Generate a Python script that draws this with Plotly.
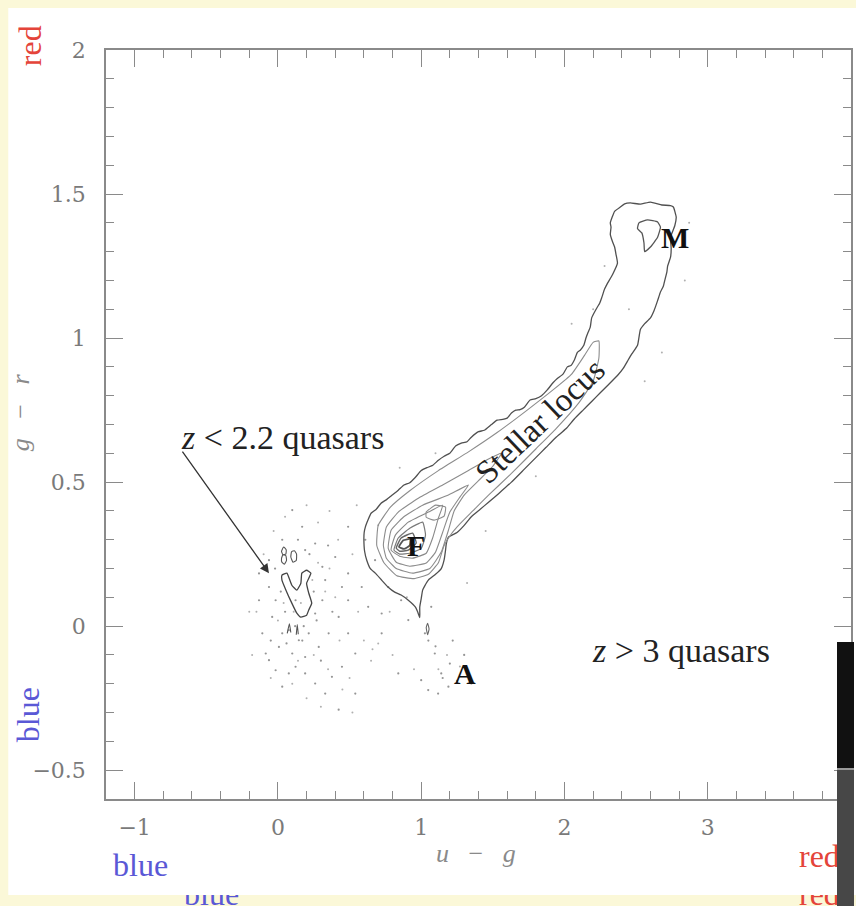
import plotly.graph_objects as go

# ---------------------------------------------------------------
# SDSS colour-colour diagram: g - r versus u - g
# ---------------------------------------------------------------

# Outermost density contour of the stellar locus (tail -> M end -> back)
OUTER_UG = [0.99, 0.975, 0.96, 0.91, 0.86, 0.815, 0.77, 0.72, 0.68, 0.645, 0.62, 0.605,
            0.60, 0.602, 0.61, 0.63, 0.65, 0.685, 0.72, 0.76, 0.79, 0.84, 0.88, 0.92,
            0.96, 1.00, 1.04, 1.08, 1.12, 1.16, 1.20, 1.24, 1.28, 1.32, 1.35, 1.40,
            1.44, 1.49, 1.53, 1.57, 1.60, 1.63, 1.66, 1.69, 1.72, 1.76, 1.80, 1.84,
            1.88, 1.92, 1.95, 1.99, 2.02, 2.045, 2.07, 2.09, 2.11, 2.135, 2.15, 2.165,
            2.18, 2.19, 2.23, 2.245, 2.26, 2.28, 2.30, 2.335, 2.37, 2.36, 2.35, 2.335,
            2.32, 2.325, 2.32, 2.35, 2.39, 2.42, 2.46, 2.53, 2.60, 2.68, 2.74, 2.76,
            2.78, 2.77, 2.74, 2.745, 2.74, 2.72, 2.715, 2.70, 2.69, 2.67, 2.65, 2.625,
            2.60, 2.56, 2.53, 2.51, 2.47, 2.44, 2.41, 2.37, 2.31, 2.25, 2.19, 2.13,
            2.07, 2.01, 1.94, 1.87, 1.80, 1.72, 1.63, 1.54, 1.47, 1.41, 1.35, 1.30,
            1.25, 1.19, 1.175, 1.17, 1.16, 1.14, 1.10, 1.05, 1.025, 1.01, 1.00, 0.99,
            0.99]
OUTER_GR = [0.03, 0.05, 0.066, 0.09, 0.108, 0.118, 0.135, 0.162, 0.184, 0.20, 0.229, 0.26,
            0.30, 0.325, 0.344, 0.37, 0.392, 0.405, 0.427, 0.44, 0.452, 0.472, 0.49, 0.498,
            0.517, 0.54, 0.55, 0.558, 0.576, 0.59, 0.60, 0.625, 0.635, 0.64, 0.656, 0.675,
            0.68, 0.70, 0.715, 0.718, 0.722, 0.74, 0.75, 0.752, 0.76, 0.785, 0.79, 0.80,
            0.82, 0.845, 0.86, 0.875, 0.90, 0.905, 0.925, 0.95, 0.958, 0.975, 1.00, 1.02,
            1.038, 1.07, 1.108, 1.12, 1.14, 1.17, 1.19, 1.22, 1.26, 1.29, 1.316, 1.335,
            1.36, 1.385, 1.40, 1.44, 1.455, 1.466, 1.469, 1.465, 1.472, 1.462, 1.46, 1.455,
            1.42, 1.39, 1.35, 1.31, 1.28, 1.25, 1.23, 1.20, 1.18, 1.16, 1.13, 1.095,
            1.07, 1.05, 1.03, 0.975, 0.945, 0.92, 0.895, 0.87, 0.84, 0.81, 0.78, 0.75,
            0.72, 0.685, 0.655, 0.62, 0.585, 0.545, 0.50, 0.46, 0.43, 0.405, 0.38, 0.35,
            0.325, 0.309, 0.285, 0.264, 0.23, 0.20, 0.18, 0.16, 0.14, 0.125, 0.095, 0.066,
            0.03]

# M-dwarf density peak
M_PEAK_UG = [2.51, 2.52, 2.58, 2.65, 2.67, 2.65, 2.60, 2.56, 2.555, 2.54, 2.51]
M_PEAK_GR = [1.38, 1.40, 1.41, 1.403, 1.385, 1.35, 1.316, 1.30, 1.33, 1.365, 1.38]

# Nested contours around the F-star peak (outer to inner)
LEVEL2_UG = [0.69, 0.70, 0.785, 0.92, 1.12, 1.33, 1.53, 1.74, 1.92, 2.05, 2.14, 2.20,
             2.24, 2.24, 2.20, 2.10, 1.94, 1.80, 1.63, 1.47, 1.36, 1.27, 1.21, 1.16,
             1.12, 1.05, 0.95, 0.83, 0.74, 0.69]
LEVEL2_GR = [0.28, 0.35, 0.413, 0.47, 0.54, 0.605, 0.672, 0.75, 0.82, 0.875, 0.94, 0.985,
             0.99, 0.93, 0.85, 0.775, 0.685, 0.615, 0.53, 0.455, 0.40, 0.355, 0.32, 0.28,
             0.22, 0.18, 0.165, 0.175, 0.22, 0.28]

LEVEL3_UG = [0.736, 0.757, 0.84, 0.98, 1.15, 1.33, 1.47, 1.56, 1.50, 1.40, 1.30, 1.23,
             1.19, 1.14, 1.06, 0.94, 0.826, 0.757, 0.736]
LEVEL3_GR = [0.281, 0.344, 0.396, 0.444, 0.49, 0.54, 0.58, 0.60, 0.555, 0.505, 0.455, 0.40,
             0.333, 0.257, 0.20, 0.184, 0.20, 0.236, 0.281]

LEVEL4_UG = [0.77, 0.79, 0.875, 1.01, 1.19, 1.33, 1.27, 1.20, 1.15, 1.10, 1.035, 0.92, 0.826, 0.77]
LEVEL4_GR = [0.27, 0.333, 0.378, 0.42, 0.455, 0.49, 0.448, 0.396, 0.326, 0.257, 0.219, 0.208, 0.222, 0.27]

LEVEL5_UG = [0.79, 0.82, 0.91, 1.05, 1.15, 1.12, 1.08, 1.035, 0.94, 0.85, 0.79]
LEVEL5_GR = [0.264, 0.316, 0.361, 0.396, 0.42, 0.375, 0.306, 0.253, 0.236, 0.243, 0.264]

LEVEL6_UG = [0.81, 0.84, 0.92, 1.01, 1.03, 1.00, 0.92, 0.85, 0.81]
LEVEL6_GR = [0.264, 0.306, 0.34, 0.361, 0.316, 0.27, 0.253, 0.25, 0.264]

LEVEL7_UG = [0.826, 0.86, 0.94, 0.965, 0.91, 0.85, 0.826]
LEVEL7_GR = [0.271, 0.306, 0.323, 0.288, 0.264, 0.26, 0.271]

LEVEL8_UG = [0.845, 0.875, 0.925, 0.92, 0.88, 0.845]
LEVEL8_GR = [0.275, 0.298, 0.303, 0.28, 0.268, 0.275]

# Secondary density peak above F
ISLAND_UG = [1.035, 1.10, 1.17, 1.16, 1.09, 1.035, 1.035]
ISLAND_GR = [0.396, 0.42, 0.413, 0.382, 0.368, 0.378, 0.396]

# Low-redshift quasar contours
QSO_MAIN_UG = [0.028, 0.0625, 0.097, 0.132, 0.16, 0.167, 0.20, 0.23, 0.20, 0.215, 0.236,
               0.215, 0.20, 0.16, 0.132, 0.097, 0.056, 0.028, 0.028]
QSO_MAIN_GR = [0.177, 0.184, 0.142, 0.125, 0.149, 0.184, 0.194, 0.184, 0.149, 0.115, 0.08,
               0.056, 0.038, 0.031, 0.045, 0.08, 0.125, 0.16, 0.177]
QSO_BLOB1_UG = [0.025, 0.04, 0.058, 0.055, 0.035, 0.025]
QSO_BLOB1_GR = [0.26, 0.275, 0.265, 0.25, 0.248, 0.26]
QSO_BLOB2_UG = [0.025, 0.035, 0.055, 0.06, 0.045, 0.028, 0.025]
QSO_BLOB2_GR = [0.235, 0.248, 0.245, 0.228, 0.215, 0.222, 0.235]
QSO_BLOB3_UG = [0.09, 0.095, 0.115, 0.13, 0.128, 0.105, 0.09]
QSO_BLOB3_GR = [0.24, 0.258, 0.262, 0.25, 0.228, 0.222, 0.24]
QSO_TICK1_UG = [0.065, 0.08, 0.09]
QSO_TICK1_GR = [-0.025, 0.008, -0.022]
QSO_TICK2_UG = [0.128, 0.135, 0.142]
QSO_TICK2_GR = [-0.03, 0.006, -0.028]
A_BLOB_UG = [1.035, 1.045, 1.055, 1.045, 1.035]
A_BLOB_GR = [-0.005, 0.01, -0.01, -0.03, -0.005]

# Individual objects outside the contoured regions
POINTS_UG = [-0.132, -0.0625, 0.03, 0.10, 0.169, 0.19, 0.26, 0.31, 0.33, 0.40, 0.447, 0.49,
             0.31, 0.26, 0.215, 0.146, 0.076, 0.03, 0.007, 0.10, 0.19, 0.285, 0.354, 0.424,
             0.49, 0.54, 0.447, 0.377, 0.33, 0.26, 0.19, 0.123, 0.076, 0.03, -0.016, -0.0625,
             -0.085, -0.109, -0.04, -0.016, -0.0625, -0.132, 0.123, 0.49, 0.585, 0.63, 0.724,
             0.77, 0.678, 0.61, 0.49, 0.424, 0.54, 0.724, 0.84, 1.026, 1.095, 1.14, 1.19,
             1.118, 1.049, 1.0, 1.07, 0.86, 0.91, 0.05, 0.12, 0.18, 0.25, 0.27, 0.02, -0.02,
             0.22, 0.14, 0.35, 0.38, 0.06, 0.17, 0.30, -0.05, 1.20, 1.15, 1.25, 1.10, 1.05,
             1.22, 1.30]
POINTS_GR = [0.183, 0.229, 0.30, 0.403, 0.345, 0.264, 0.287, 0.206, 0.16, 0.24, 0.136, 0.09,
             0.09, 0.044, -0.025, -0.049, -0.014, -0.025, -0.072, -0.095, -0.107, -0.072, -0.025, 0.032,
             -0.025, -0.095, -0.141, -0.176, -0.234, -0.199, -0.164, -0.141, -0.164, -0.21, -0.153, -0.118,
             -0.095, -0.025, 0.032, 0.09, 0.136, 0.09, 0.09, 0.183, 0.136, 0.067, 0.044,
             0.136, 0.229, 0.30, 0.345, -0.29, -0.234, -0.025, -0.164, -0.025, -0.095, -0.164, -0.21,
             -0.234, -0.222, -0.1875, 0.067, 0.09, 0.021, 0.05, 0.0, 0.0, 0.12, 0.02, 0.12, 0.20,
             0.25, 0.30, 0.28, 0.05, -0.06, -0.05, -0.12, -0.05, -0.13, -0.18, -0.19, -0.07, -0.05,
             -0.05, -0.10]

# Fainter sprinkle of objects around the clumps and along the locus
FAINT_UG = [-0.20, -0.18, -0.10, -0.03, 0.05, 0.20, 0.28, 0.42, 0.52, 0.56, 0.60, 0.65,
            0.50, 0.45, 0.20, 0.10, -0.05, 0.00, 0.04, 0.11, 0.16, 0.24, 0.28, 0.33,
            0.36, 0.40, 0.43, 0.35, 0.25, 0.14, 0.80, 0.95, 1.18, 1.12, 1.27, 1.35,
            0.90, 0.78, 0.70, 0.52, 0.30, 2.05, 2.20, 2.28, 2.84, 2.87, 2.56, 2.68,
            1.10, 0.85, 1.80, 1.45, 1.32, 0.55, 0.70, 2.45, -0.15, 0.66, 0.36]
FAINT_GR = [0.05, -0.10, 0.25, 0.33, 0.38, 0.42, 0.36, 0.30, 0.25, 0.05, -0.05, -0.12,
            -0.18, -0.22, -0.25, -0.20, -0.18, 0.02, 0.08, 0.05, 0.08, 0.16, 0.22, 0.12,
            0.20, 0.10, -0.05, -0.15, -0.10, -0.12, -0.10, -0.15, -0.10, -0.15, -0.14, -0.20,
            0.10, 0.05, -0.06, -0.30, -0.28, 1.05, 1.10, 1.25, 1.20, 1.40, 0.85, 0.95,
            0.60, 0.55, 0.52, 0.33, 0.15, 0.42, 0.35, 1.10, 0.05, -0.08, 0.40]

# Axis ticks
X_TICKS = [-1, 0, 1, 2, 3]
Y_TICKS = [-0.5, 0, 0.5, 1, 1.5, 2]

# ---------------------------------------------------------------
W, H = 856, 906
ML, MR, MT, MB = 106, 3, 50, 107
SERIF = "Liberation Serif, Times New Roman, serif"
TICKFONT = "DejaVu Serif, serif"
PAGE_YELLOW = "#fbf8d8"
RED = "#e4443a"
BLUE = "#5a58d6"
AXIS_GREY = "#8a8a8a"


def page_x(p):
    """Horizontal page pixel -> paper fraction."""
    return (p - ML) / (W - ML - MR)


def page_y(p):
    """Vertical page pixel (from top) -> paper fraction."""
    return (H - MB - p) / (H - MT - MB)


fig = go.Figure()

# scattered single objects
fig.add_trace(go.Scatter(x=FAINT_UG, y=FAINT_GR, mode="markers",
                         marker=dict(size=2.0, color="#b0b0b0"),
                         hoverinfo="skip", showlegend=False))
fig.add_trace(go.Scatter(x=POINTS_UG, y=POINTS_GR, mode="markers",
                         marker=dict(size=2.2, color="#959595"),
                         hoverinfo="skip", showlegend=False))

contours = [
    (OUTER_UG, OUTER_GR, "#505050", 1.3),
    (M_PEAK_UG, M_PEAK_GR, "#555555", 1.3),
    (LEVEL2_UG, LEVEL2_GR, "#8c8c8c", 1.1),
    (LEVEL3_UG, LEVEL3_GR, "#8c8c8c", 1.1),
    (LEVEL4_UG, LEVEL4_GR, "#8c8c8c", 1.1),
    (LEVEL5_UG, LEVEL5_GR, "#888888", 1.1),
    (LEVEL6_UG, LEVEL6_GR, "#7a7a7a", 1.2),
    (LEVEL7_UG, LEVEL7_GR, "#666666", 1.4),
    (LEVEL8_UG, LEVEL8_GR, "#555555", 1.8),
    (ISLAND_UG, ISLAND_GR, "#8c8c8c", 1.1),
    (QSO_MAIN_UG, QSO_MAIN_GR, "#444444", 1.3),
    (QSO_BLOB1_UG, QSO_BLOB1_GR, "#555555", 1.1),
    (QSO_BLOB2_UG, QSO_BLOB2_GR, "#555555", 1.1),
    (QSO_BLOB3_UG, QSO_BLOB3_GR, "#555555", 1.1),
    (QSO_TICK1_UG, QSO_TICK1_GR, "#555555", 1.1),
    (QSO_TICK2_UG, QSO_TICK2_GR, "#555555", 1.1),
    (A_BLOB_UG, A_BLOB_GR, "#666666", 1.1),
]
for cx, cy, col, lw in contours:
    fig.add_trace(go.Scatter(x=cx, y=cy, mode="lines",
                             line=dict(color=col, width=lw, shape="spline", smoothing=0.4),
                             hoverinfo="skip", showlegend=False))

annotations = []


def label(text, x, y, size=34, color="#222222", bold=False, angle=0, xanchor="center",
          yanchor="middle", ref="data", family=SERIF):
    if bold:
        text = "<b>" + text + "</b>"
    annotations.append(dict(
        text=text, x=x, y=y,
        xref="x" if ref == "data" else "paper",
        yref="y" if ref == "data" else "paper",
        showarrow=False, textangle=angle, xanchor=xanchor, yanchor=yanchor,
        font=dict(family=family, size=size, color=color)))


# object-class labels in data space
label("<i>z</i> &lt; 2.2 quasars", -0.69, 0.656, xanchor="left")
label("<i>z</i> &gt; 3 quasars", 2.18, -0.083, xanchor="left")
label("A", 1.305, -0.163, size=30, color="#111111", bold=True)
label("F", 0.965, 0.281, size=30, color="#111111", bold=True)
label("M", 2.77, 1.35, size=30, color="#111111", bold=True)
label("Stellar locus", 1.83, 0.712, size=33, color="#222222", angle=-43.6)

# arrow to the low-z quasar clump
annotations.append(dict(x=-0.0625, y=0.184, ax=-0.674, ay=0.611,
                        xref="x", yref="y", axref="x", ayref="y", text="",
                        showarrow=True, arrowhead=2, arrowsize=1.4, arrowwidth=1.3,
                        arrowcolor="#333333"))

# axis titles
label("<i>u</i>   −   <i>g</i>", page_x(477), page_y(853), size=26, color="#8a8a8a", ref="paper")
label("<i>g</i>   −   <i>r</i>", page_x(20), page_y(412), size=26, color="#8a8a8a", angle=-90,
      ref="paper")

# colour-direction hints
label("red", page_x(30), page_y(46), size=32, color=RED, angle=-90, ref="paper")
label("blue", page_x(28), page_y(715), size=32, color=BLUE, angle=-90, ref="paper")
label("blue", page_x(141), page_y(865), size=32, color=BLUE, ref="paper")
label("red", page_x(799), page_y(856), size=32, color=RED, xanchor="left", ref="paper")

# lower page edge: repeated labels showing through
label("blue", page_x(212), page_y(914), size=32, color=BLUE, yanchor="bottom", ref="paper")
label("red", page_x(799), page_y(914), size=32, color=RED, xanchor="left", yanchor="bottom",
      ref="paper")


def block(x0, y0, x1, y1, color):
    annotations.append(dict(
        text=" ", xref="paper", yref="paper", x=page_x(x0), y=page_y(y0),
        xanchor="left", yanchor="top", showarrow=False,
        width=x1 - x0, height=y1 - y0, bgcolor=color, borderpad=0, borderwidth=0,
        font=dict(size=1)))


# white slide panel over the upper part of the repeated labels
block(172, 876, 262, 895, "white")
block(790, 876, 840, 895, "white")
# dark bar on the right edge of the frame
block(839, 642, 856, 768, "#111111")
block(839, 768, 856, 770, "#9a9a9a")
block(839, 770, 856, 906, "#474747")

axis_common = dict(
    showgrid=False, zeroline=False, showline=True, linecolor=AXIS_GREY, linewidth=1.5,
    mirror="allticks", ticks="inside", ticklen=17, tickwidth=1.3, tickcolor=AXIS_GREY,
    tickfont=dict(family=TICKFONT, size=22, color="#7a7a7a"),
)

fig.update_layout(
    width=W, height=H,
    margin=dict(l=ML, r=MR, t=MT, b=MB),
    paper_bgcolor=PAGE_YELLOW,
    plot_bgcolor="white",
    xaxis=dict(range=[-1.2, 4.0], tickvals=X_TICKS, ticklabelstandoff=8,
               minor=dict(dtick=0.2, tick0=0, ticks="inside", ticklen=8, tickwidth=1.2,
                          tickcolor=AXIS_GREY),
               **axis_common),
    yaxis=dict(range=[-0.6, 2.0], tickvals=Y_TICKS, ticklabelstandoff=14,
               minor=dict(dtick=0.1, tick0=0, ticks="inside", ticklen=8, tickwidth=1.2,
                          tickcolor=AXIS_GREY),
               **axis_common),
    shapes=[dict(type="rect", xref="paper", yref="paper", layer="below",
                 x0=page_x(8), x1=page_x(870), y0=page_y(8), y1=page_y(895),
                 fillcolor="white", line=dict(width=0))],
    annotations=annotations,
)

fig.write_html("out.html")
